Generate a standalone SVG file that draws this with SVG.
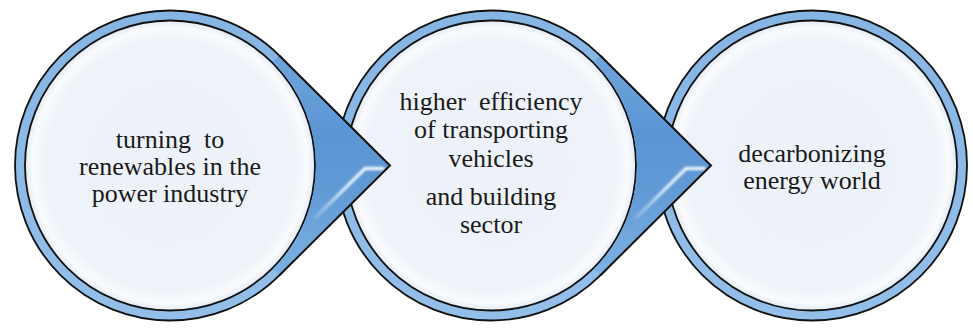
<svg xmlns="http://www.w3.org/2000/svg" width="973" height="328" viewBox="0 0 973 328">
  <defs>
    <radialGradient id="disc" cx="0.5" cy="0.5" r="0.5">
      <stop offset="0" stop-color="#EDF2F9"/>
      <stop offset="0.86" stop-color="#EEF3F9"/>
      <stop offset="0.95" stop-color="#F9FBFD"/>
      <stop offset="1" stop-color="#E3EBF5"/>
    </radialGradient>
    <linearGradient id="band" x1="0" y1="0" x2="0" y2="1">
      <stop offset="0" stop-color="#86B5E4"/>
      <stop offset="1" stop-color="#93BFE9"/>
    </linearGradient>
    <linearGradient id="arrow" x1="0" y1="0" x2="0" y2="1">
      <stop offset="0" stop-color="#6FA5DC"/>
      <stop offset="0.35" stop-color="#5B95D3"/>
      <stop offset="0.6" stop-color="#6199D5"/>
      <stop offset="1" stop-color="#7DB2E3"/>
    </linearGradient>
    <linearGradient id="hl" x1="1" y1="0" x2="0" y2="1">
      <stop offset="0" stop-color="#FFFFFF" stop-opacity="0.9"/>
      <stop offset="0.5" stop-color="#D6ECFC" stop-opacity="0.95"/>
      <stop offset="1" stop-color="#BFE0FA" stop-opacity="0.3"/>
    </linearGradient>
    <filter id="soft" x="-20%" y="-20%" width="140%" height="140%">
      <feGaussianBlur stdDeviation="0.9"/>
    </filter>
  </defs>
  <style>
    .outer { fill: url(#band); stroke: #111; stroke-width: 1.8; }
    .inner { fill: url(#disc); stroke: #111; stroke-width: 1.8; }
    .afill { fill: url(#arrow); stroke: none; }
    .aedge { fill: none; stroke: #111; stroke-width: 2; stroke-linejoin: miter; }
    .hl { fill: none; stroke: url(#hl); stroke-width: 3.5; stroke-linecap: round; stroke-linejoin: round; filter: url(#soft); }
    .lbl { font-family: 'Liberation Serif', 'DejaVu Serif', serif; font-size: 26px; fill: #1a1a1a; text-anchor: middle; }
  </style>
  <rect width="973" height="328" fill="#FFFFFF"/>

  <g id="node3">
    <circle class="outer" cx="812" cy="165.5" r="155"/>
    <circle class="inner" cx="812" cy="165.5" r="145"/>
    <text class="lbl" font-family="Liberation Serif, serif" x="812" y="162">decarbonizing</text>
    <text class="lbl" font-family="Liberation Serif, serif" x="812" y="189">energy world</text>
  </g>

  <g id="node2">
    <circle class="outer" cx="491" cy="165.5" r="155"/>
    <circle class="inner" cx="491" cy="165.5" r="145"/>
    <text class="lbl" font-family="Liberation Serif, serif" x="491" y="110" xml:space="preserve">higher  efficiency</text>
    <text class="lbl" font-family="Liberation Serif, serif" x="491" y="138">of transporting</text>
    <text class="lbl" font-family="Liberation Serif, serif" x="491" y="167">vehicles</text>
    <text class="lbl" font-family="Liberation Serif, serif" x="491" y="205">and building</text>
    <text class="lbl" font-family="Liberation Serif, serif" x="491" y="233">sector</text>
  </g>

  <g id="node1">
    <circle class="outer" cx="170" cy="165.5" r="155"/>
    <circle class="inner" cx="170" cy="165.5" r="145"/>
    <text class="lbl" font-family="Liberation Serif, serif" x="170" y="148" xml:space="preserve">turning  to</text>
    <text class="lbl" font-family="Liberation Serif, serif" x="170" y="175">renewables in the</text>
    <text class="lbl" font-family="Liberation Serif, serif" x="170" y="202">power industry</text>
  </g>

  <g id="connectors">
    <g id="arrow1">
      <path class="afill" d="M279.2,55.5 L390,165.5 L279.2,275.5 L272.9,269.1 A146,146 0 0 0 272.9,61.9 Z"/>
      <path class="hl" d="M383,168.5 L365,168.5 L316,217"/>
      <path class="aedge" d="M279.2,55.5 L390,165.5 L279.2,275.5"/>
    </g>
    <g id="arrow2">
      <path class="afill" d="M600.2,55.5 L711,165.5 L600.2,275.5 L593.9,269.1 A146,146 0 0 0 593.9,61.9 Z"/>
      <path class="hl" d="M704,168.5 L686,168.5 L637,217"/>
      <path class="aedge" d="M600.2,55.5 L711,165.5 L600.2,275.5"/>
    </g>
  </g>
</svg>
